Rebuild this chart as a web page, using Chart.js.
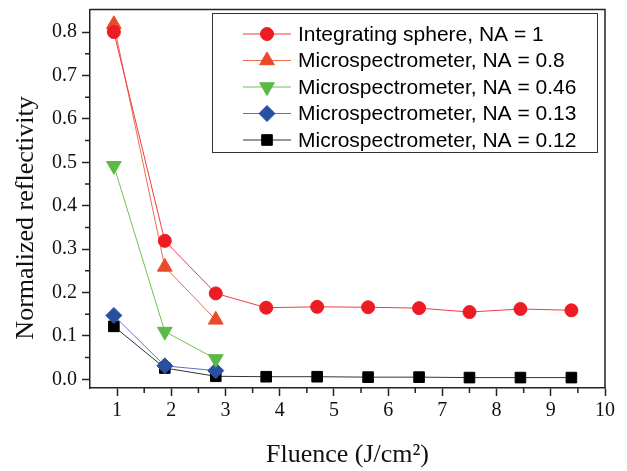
<!DOCTYPE html>
<html>
<head>
<meta charset="utf-8">
<script src="https://cdn.jsdelivr.net/npm/chart.js@4.4.0/dist/chart.umd.min.js"></script>
<style>
    html, body { margin: 0; padding: 0; background: #fff; }
</style>
</head>
<body>
<canvas id="reflChart" width="627" height="471"></canvas>
<script>
// fluence values (J/cm2) and normalized reflectivity
const fluence = [0.94, 1.88, 2.82, 3.75, 4.69, 5.63, 6.57, 7.50, 8.44, 9.38];
const sphereNA1 = [0.800, 0.319, 0.198, 0.165, 0.167, 0.166, 0.164, 0.155, 0.162, 0.159];
const microNA080 = [0.818, 0.259, 0.137];
const microNA046 = [0.492, 0.110, 0.047];
const microNA013 = [0.147, 0.031, 0.020];
const microNA012 = [0.122, 0.026, 0.007, 0.006, 0.006, 0.005, 0.005, 0.004, 0.004, 0.004];

const seriesLabels = [
    'Integrating sphere, NA = 1',
    'Microspectrometer, NA = 0.8',
    'Microspectrometer, NA = 0.46',
    'Microspectrometer, NA = 0.13',
    'Microspectrometer, NA = 0.12'
];
const xTicks = [1, 2, 3, 4, 5, 6, 7, 8, 9, 10];
const xMinorTicks = [1.5, 2.5, 3.5, 4.5, 5.5, 6.5, 7.5, 8.5, 9.5];
const yTicks = [0, 0.1, 0.2, 0.3, 0.4, 0.5, 0.6, 0.7, 0.8];
const yMinorTicks = [0.05, 0.15, 0.25, 0.35, 0.45, 0.55, 0.65, 0.75];
const yTitle = 'Normalized reflectivity';

function toPoints(ys) {
    return ys.map((y, i) => ({ x: fluence[i], y: y }));
}

function makeSet(label, ys, style, fill, line, radius, rotation) {
    return {
        label: label,
        data: toPoints(ys),
        showLine: true,
        borderColor: line,
        borderWidth: 1,
        backgroundColor: fill,
        pointStyle: style,
        pointRotation: rotation || 0,
        pointRadius: radius,
        pointHoverRadius: radius,
        pointBackgroundColor: fill,
        pointBorderColor: fill,
        pointBorderWidth: 1
    };
}

const serif = 'Liberation Serif';
const axisColor = '#222';

// frame on top/right, minor ticks, y title and the boxed legend inside the plot
const extrasPlugin = {
    id: 'extras',
    afterDraw(chart) {
        const ctx = chart.ctx;
        const area = chart.chartArea;
        const xs = chart.scales.x;
        const ys = chart.scales.y;
        ctx.save();
        ctx.strokeStyle = axisColor;
        ctx.lineWidth = 1.5;
        ctx.beginPath();
        ctx.moveTo(area.left, area.top);
        ctx.lineTo(area.right, area.top);
        ctx.lineTo(area.right, area.bottom);
        ctx.stroke();

        ctx.beginPath();
        xMinorTicks.forEach(v => {
            const px = xs.getPixelForValue(v);
            ctx.moveTo(px, area.bottom);
            ctx.lineTo(px, area.bottom + 5);
        });
        yMinorTicks.forEach(v => {
            const py = ys.getPixelForValue(v);
            ctx.moveTo(area.left, py);
            ctx.lineTo(area.left - 5, py);
        });
        ctx.stroke();

        // y axis title (sits a little below the axis centre in the original)
        ctx.save();
        ctx.translate(26, 218);
        ctx.rotate(-Math.PI / 2);
        ctx.font = '26px "' + serif + '"';
        ctx.fillStyle = '#111';
        ctx.textAlign = 'center';
        ctx.textBaseline = 'middle';
        ctx.fillText(yTitle, 0, 0);
        ctx.restore();

        // legend
        const bx = 212, by = 13, bw = 385, bh = 139;
        ctx.fillStyle = '#fff';
        ctx.fillRect(bx, by, bw, bh);
        ctx.strokeStyle = '#333';
        ctx.lineWidth = 1;
        ctx.strokeRect(bx + 0.5, by + 0.5, bw, bh);

        ctx.font = '21px "Liberation Sans", Arial, sans-serif';
        ctx.textBaseline = 'middle';
        chart.data.datasets.forEach((ds, i) => {
            const cy = 34 + i * 26.5;
            ctx.strokeStyle = ds.borderColor;
            ctx.lineWidth = 1;
            ctx.beginPath();
            ctx.moveTo(243, cy);
            ctx.lineTo(291, cy);
            ctx.stroke();
            ctx.fillStyle = ds.pointBackgroundColor;
            ctx.strokeStyle = ds.pointBorderColor;
            Chart.helpers.drawPoint(ctx, {
                pointStyle: ds.pointStyle,
                rotation: ds.pointRotation,
                radius: ds.pointRadius,
                borderWidth: 1
            }, 267, cy);
            ctx.fillStyle = '#000';
            ctx.fillText(ds.label, 298, cy + 1);
        });
        ctx.restore();
    }
};

const ctx = document.getElementById('reflChart').getContext('2d');
const reflChart = new Chart(ctx, {
    type: 'scatter',
    data: {
        datasets: [
            makeSet(seriesLabels[0], sphereNA1, 'circle', '#ed1c24', '#f03a40', 6.5),
            makeSet(seriesLabels[1], microNA080, 'triangle', '#e84a2a', '#f06a50', 8.5),
            makeSet(seriesLabels[2], microNA046, 'triangle', '#5cb946', '#6cc452', 8.5, 180),
            makeSet(seriesLabels[3], microNA013, 'rectRot', '#2a4ea2', '#5872c4', 8),
            makeSet(seriesLabels[4], microNA012, 'rect', '#000000', '#333333', 7.5)
        ]
    },
    options: {
        responsive: false,
        animation: false,
        devicePixelRatio: 1,
        layout: { padding: { left: 0, top: 6, right: 22, bottom: 0 } },
        plugins: {
            legend: { display: false },
            tooltip: { enabled: false }
        },
        scales: {
            x: {
                type: 'linear',
                min: 0.5,
                max: 10,
                afterBuildTicks: scale => { scale.ticks = xTicks.map(v => ({ value: v })); },
                afterFit: scale => {
                    scale.height = 83;
                    scale.paddingLeft = 0;
                    scale.paddingRight = 0;
                },
                border: { display: true, color: axisColor, width: 1.5 },
                grid: { drawOnChartArea: false, drawTicks: true, tickLength: 8, tickColor: axisColor, tickWidth: 1.5 },
                ticks: {
                    color: '#111',
                    padding: 3,
                    maxRotation: 0,
                    font: { family: serif, size: 20 },
                    callback: v => String(v)
                },
                title: {
                    display: true,
                    text: 'Fluence (J/cm²)',
                    color: '#111',
                    font: { family: serif, size: 26 },
                    padding: { top: 0, bottom: 0 }
                }
            },
            y: {
                type: 'linear',
                min: -0.02,
                max: 0.852,
                afterBuildTicks: scale => { scale.ticks = yTicks.map(v => ({ value: v })); },
                afterFit: scale => {
                    scale.width = 90;
                    scale.paddingTop = 0;
                    scale.paddingBottom = 0;
                },
                border: { display: true, color: axisColor, width: 1.5 },
                grid: { drawOnChartArea: false, drawTicks: true, tickLength: 8, tickColor: axisColor, tickWidth: 1.5 },
                ticks: {
                    color: '#111',
                    padding: 5,
                    font: { family: serif, size: 20 },
                    callback: v => Number(v).toFixed(1)
                },
                title: { display: false }
            }
        }
    },
    plugins: [extrasPlugin]
});
</script>
</body>
</html>
